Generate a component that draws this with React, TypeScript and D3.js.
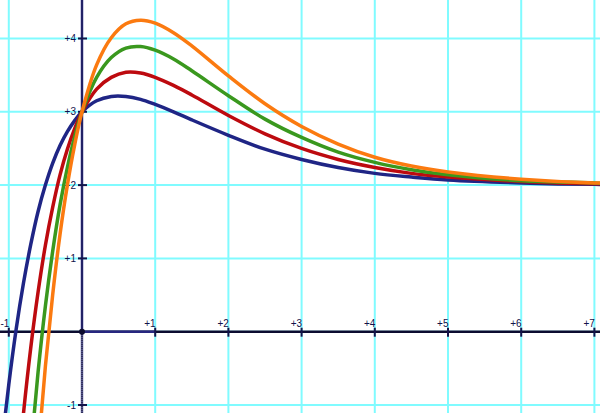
/** Family of curves that all pass through (0, 3) and level off towards y = 2. */

import { scaleLinear, line, curveCatmullRom } from 'd3'

const W = 600
const H = 413

// sample positions along x, and the values at those positions
const xs = [-1.1, -1.0, -0.9, -0.8, -0.7, -0.6, -0.5, -0.4, -0.3, -0.2, -0.1, 0, 0.2, 0.4, 0.6, 0.8, 1.0, 1.25, 1.5, 2, 2.5, 3, 3.5, 4, 4.5, 5, 6, 7, 7.2]
const blue = [-1.6, -0.72, 0.03, 0.66, 1.19, 1.64, 2.0, 2.3, 2.54, 2.73, 2.88, 3.0, 3.15, 3.21, 3.21, 3.17, 3.1, 3.0, 2.89, 2.68, 2.49, 2.35, 2.24, 2.16, 2.11, 2.07, 2.03, 2.01, 2.01]
const red = [-4.91, -3.44, -2.18, -1.12, -0.22, 0.54, 1.18, 1.7, 2.14, 2.49, 2.77, 3.0, 3.31, 3.47, 3.54, 3.53, 3.47, 3.36, 3.23, 2.95, 2.7, 2.5, 2.35, 2.24, 2.16, 2.11, 2.05, 2.02, 2.02]
const green = [-8.2, -6.15, -4.4, -2.9, -1.63, -0.55, 0.35, 1.1, 1.73, 2.24, 2.66, 3.0, 3.47, 3.74, 3.87, 3.89, 3.84, 3.72, 3.56, 3.22, 2.9, 2.65, 2.45, 2.31, 2.21, 2.14, 2.06, 2.03, 2.02]
const orange = [-11.5, -8.87, -6.61, -4.68, -3.04, -1.64, -0.47, 0.51, 1.33, 2.0, 2.55, 3.0, 3.64, 4.01, 4.2, 4.25, 4.21, 4.08, 3.9, 3.49, 3.11, 2.8, 2.56, 2.38, 2.26, 2.18, 2.08, 2.03, 2.03]

const series = [
  { name: 'blue', values: blue, color: '#1f2585' },
  { name: 'red', values: red, color: '#bd0a0f' },
  { name: 'green', values: green, color: '#3a981e' },
  { name: 'orange', values: orange, color: '#fb7a10' },
]

const gridX = [-1, 0, 1, 2, 3, 4, 5, 6, 7]
const gridY = [-1, 0, 1, 2, 3, 4]
const xTicks = [-1, 1, 2, 3, 4, 5, 6, 7]
const xTickLabels = ['-1', '+1', '+2', '+3', '+4', '+5', '+6', '+7']
const yTicks = [-1, 1, 2, 3, 4]
const yTickLabels = ['-1', '+1', '+2', '+3', '+4']

export default function App() {
  const x = scaleLinear().domain([0, 7]).range([82, 594.4])
  const y = scaleLinear().domain([0, 4]).range([331.7, 38.5])

  const x0 = x(0)
  const y0 = y(0)

  const pathFor = (values: number[]) =>
    line<number>()
      .x((_, i) => x(xs[i]))
      .y((d) => y(d))
      .curve(curveCatmullRom.alpha(0.5))(values) ?? ''

  const labelFont = { fontFamily: 'Liberation Sans, Arial, sans-serif', fontSize: 10, fill: '#12124a' }

  return (
    <div style={{ position: 'absolute', left: 0, top: 0 }}>
      <svg width={W} height={H} style={{ display: 'block', background: '#fff' }}>
        <defs>
          <clipPath id="plot">
            <rect x={0} y={0} width={W} height={H} />
          </clipPath>
        </defs>

        {/* grid */}
        <g stroke="#80fbff" strokeWidth={2}>
          {gridX.map((v) => (
            <line key={'gx' + v} x1={x(v)} x2={x(v)} y1={0} y2={H} />
          ))}
          {gridY.map((v) => (
            <line key={'gy' + v} x1={0} x2={W} y1={y(v)} y2={y(v)} />
          ))}
        </g>

        {/* axes */}
        <line x1={0} x2={W} y1={y0} y2={y0} stroke="#0c0c30" strokeWidth={2.5} />
        <line x1={x0} x2={x(1)} y1={y0} y2={y0} stroke="#27277f" strokeWidth={2.5} />
        <line x1={x0} x2={x0} y1={0} y2={y0} stroke="#3a3a95" strokeWidth={2.5} />
        <line x1={x0} x2={x0} y1={0} y2={y0} stroke="#0b0b38" strokeWidth={1} />
        <line x1={x0} x2={x0} y1={y0} y2={H} stroke="#6a6aa8" strokeWidth={2.5} />
        <line x1={x0} x2={x0} y1={y0} y2={H} stroke="#0a0a25" strokeWidth={1.5} strokeDasharray="1 1" />

        {/* ticks */}
        <g stroke="#14144a" strokeWidth={2}>
          {xTicks.map((v) => (
            <line key={'tx' + v} x1={x(v)} x2={x(v)} y1={y0 - 4} y2={y0 + 5} />
          ))}
          {yTicks.map((v) => (
            <line key={'ty' + v} x1={x0 - 4} x2={x0 + 5} y1={y(v)} y2={y(v)} />
          ))}
        </g>

        {/* tick labels */}
        {xTicks.map((v, i) => (
          <text key={'lx' + v} x={x(v) + 0.5} y={y0 - 5} textAnchor="end" {...labelFont}>
            {xTickLabels[i]}
          </text>
        ))}
        {yTicks.map((v, i) => (
          <text key={'ly' + v} x={x0 - 6} y={y(v)} dy="0.35em" textAnchor="end" {...labelFont}>
            {yTickLabels[i]}
          </text>
        ))}

        {/* curves */}
        <g clipPath="url(#plot)" fill="none" strokeWidth={3.5} strokeLinejoin="round">
          {series.map((s) => (
            <path key={s.name} d={pathFor(s.values)} stroke={s.color} />
          ))}
        </g>

        {/* origin */}
        <circle cx={x0} cy={y0} r={3} fill="#0c0c30" />
      </svg>
    </div>
  )
}
